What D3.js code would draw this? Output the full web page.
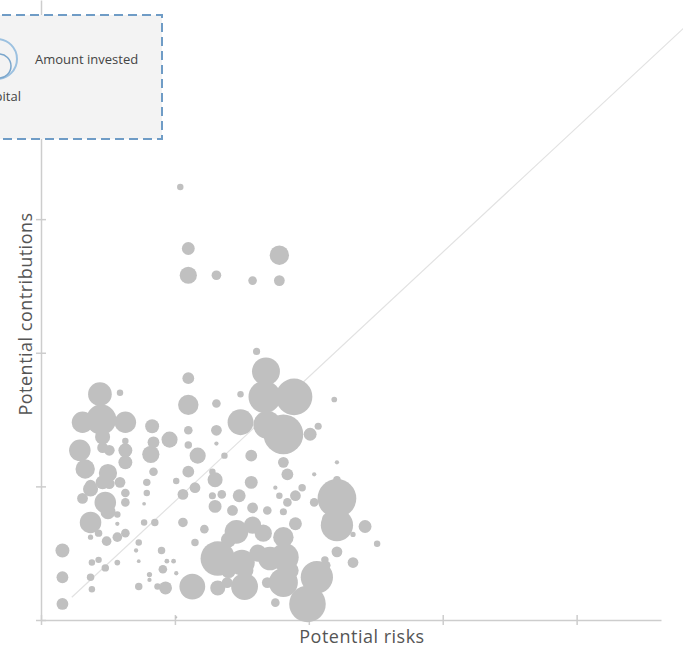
<!DOCTYPE html>
<html>
<head>
<meta charset="utf-8">
<script src="https://cdn.jsdelivr.net/npm/d3@7"></script>
<style>
    body { margin: 0; background: #fff; }
    svg { display: block; }
</style>
</head>
<body>
<div id="chart"></div>
<script>
// values (risk / contribution in tick units, amount invested)
let risks = [
    1.04, 1.10, 1.10, 1.31, 1.58, 1.78, 1.78, 1.61, 1.68, 1.10,
    1.49, 1.67, 1.89, 1.10, 1.31, 2.19, 1.49, 1.69, 1.81, 2.01,
    2.07, 0.83, 0.96, 1.10, 1.31, 1.31, 1.10, 0.84, 0.82, 1.17,
    1.37, 1.57, 1.81, 2.21, 1.84, 2.04, 0.84, 1.10, 1.28, 1.30,
    1.57, 1.01, 1.95, 0.44, 0.59, 0.45, 0.31, 0.63, 0.46, 0.63,
    0.29, 0.46, 0.51, 0.63, 0.63, 0.33, 0.50, 0.46, 0.59, 0.37,
    0.37, 0.48, 0.37, 0.50, 0.31, 0.51, 0.63, 0.63, 0.57, 0.57,
    0.79, 0.79, 0.77, 1.06, 1.15, 0.77, 0.85, 1.06, 0.43, 0.37,
    0.49, 0.57, 0.63, 0.73, 0.71, 0.16, 0.90, 1.15, 0.38, 0.43,
    0.57, 0.73, 0.94, 0.99, 0.48, 0.91, 0.16, 0.37, 0.81, 0.81,
    1.01, 0.38, 0.73, 0.87, 0.93, 1.13, 0.16, 1.28, 1.35, 1.48,
    1.75, 1.78, 1.90, 1.84, 2.04, 2.21, 2.21, 2.21, 2.14, 2.42,
    2.33, 2.51, 1.30, 1.43, 1.58, 1.69, 1.81, 1.22, 1.46, 1.58,
    1.66, 1.40, 1.90, 1.81, 1.32, 1.50, 1.62, 1.71, 1.82, 1.86,
    1.53, 1.40, 2.21, 2.33, 2.12, 1.32, 1.39, 1.52, 1.69, 1.81,
    2.06, 2.13, 1.99, 1.75, 1.01
];

let contributions = [
    3.24, 2.78, 2.58, 2.58, 2.54, 2.73, 2.54, 2.01, 1.86, 1.81,
    1.69, 1.67, 1.67, 1.61, 1.62, 1.65, 1.48, 1.46, 1.39, 1.39,
    1.45, 1.45, 1.35, 1.42, 1.42, 1.32, 1.31, 1.33, 1.24, 1.23,
    1.23, 1.23, 1.18, 1.18, 1.09, 1.09, 1.11, 1.11, 1.11, 1.05,
    1.03, 1.04, 0.99, 1.69, 1.70, 1.50, 1.48, 1.48, 1.37, 1.34,
    1.27, 1.29, 1.27, 1.27, 1.18, 1.13, 1.10, 1.03, 1.03, 1.01,
    0.98, 0.88, 0.73, 0.81, 0.91, 1.02, 0.95, 0.88, 0.79, 0.72,
    1.03, 0.95, 0.87, 0.94, 0.99, 0.73, 0.73, 0.73, 0.65, 0.62,
    0.59, 0.62, 0.65, 0.58, 0.52, 0.52, 0.52, 0.58, 0.43, 0.45,
    0.43, 0.44, 0.44, 0.44, 0.39, 0.38, 0.32, 0.32, 0.34, 0.30,
    0.35, 0.23, 0.25, 0.25, 0.24, 0.25, 0.12, 0.93, 0.94, 0.93,
    0.99, 0.93, 0.93, 0.88, 0.88, 1.05, 0.91, 0.71, 0.76, 0.70,
    0.64, 0.57, 0.85, 0.82, 0.84, 0.82, 0.81, 0.68, 0.66, 0.71,
    0.65, 0.60, 0.72, 0.62, 0.46, 0.43, 0.50, 0.46, 0.47, 0.37,
    0.37, 0.37, 0.51, 0.43, 0.45, 0.24, 0.28, 0.25, 0.28, 0.28,
    0.32, 0.41, 0.12, 0.13, 0.02
];

let amounts = [
    9, 36, 64, 20, 16, 81, 25, 11, 169, 30,
    9, 225, 289, 90, 16, 7, 144, 169, 342, 36,
    11, 42, 56, 16, 25, 4, 12, 30, 64, 56,
    9, 30, 25, 4, 30, 4, 16, 30, 9, 49,
    36, 9, 12, 121, 9, 196, 100, 100, 49, 9,
    100, 25, 25, 42, 42, 81, 72, 42, 25, 25,
    49, 100, 100, 49, 25, 25, 16, 16, 9, 4,
    12, 9, 3, 25, 25, 9, 12, 20, 12, 6,
    20, 20, 16, 9, 4, 42, 12, 12, 9, 9,
    7, 3, 5, 5, 12, 16, 30, 12, 6, 4,
    4, 9, 12, 9, 36, 144, 30, 11, 16, 36,
    4, 9, 25, 16, 16, 12, 324, 225, 25, 36,
    6, 9, 36, 25, 25, 16, 11, 16, 121, 64,
    64, 49, 36, 90, 256, 144, 64, 121, 169, 64,
    49, 49, 25, 25, 12, 49, 25, 156, 25, 182,
    225, 16, 289, 16, 1
];

let xTicks = [0, 1, 2, 3, 4];
let yTicks = [0, 1, 2, 3, 4];

// reference diagonal
let diagonalX = [0.23, 4.80];
let diagonalY = [0.17, 4.43];

let xLabel = 'Potential risks';
let yLabel = 'Potential contributions';
let legendSize = 'Amount invested';
let legendColor = 'Capital';

function renderChart() {
    let width = 683;
    let height = 648;
    let margin = { top: 0, right: 22, bottom: 28, left: 41 };

    let data = risks.map((r, i) => ({
        risk: r,
        contribution: contributions[i],
        amount: amounts[i]
    }));

    let x = d3.scaleLinear()
        .domain([0, 4.63])
        .range([margin.left, width - margin.right]);

    let y = d3.scaleLinear()
        .domain([0, 4.64])
        .range([height - margin.bottom, margin.top]);

    let r = d3.scaleSqrt()
        .domain([0, 400])
        .range([0, 21.5]);

    const svg = d3.select('#chart')
        .append('svg')
        .attr('width', width)
        .attr('height', height)
        .style('font-family', '"Open Sans", sans-serif');

    let styleAxis = (g) => {
        g.select('.domain')
            .attr('stroke', '#cdcdcd')
            .attr('stroke-width', 1.5);
        g.selectAll('.tick text').remove();
    };

    let xAxis = (g) => g
        .attr('transform', `translate(0,${height - margin.bottom})`)
        .call(d3.axisBottom(x).tickValues(xTicks).tickSizeOuter(0).tickFormat(''))
        .call(styleAxis)
        .call(g => g.selectAll('.tick line')
            .attr('y1', -5).attr('y2', 5)
            .attr('stroke', '#cdcdcd').attr('stroke-width', 1.5));

    let yAxis = (g) => g
        .attr('transform', `translate(${margin.left},0)`)
        .call(d3.axisLeft(y).tickValues(yTicks).tickSizeOuter(0).tickFormat(''))
        .call(styleAxis)
        .call(g => g.selectAll('.tick line')
            .attr('x1', -5).attr('x2', 5)
            .attr('stroke', '#cdcdcd').attr('stroke-width', 1.5));

    svg.append('g').call(xAxis);
    svg.append('g').call(yAxis);

    // diagonal line, behind the bubbles
    svg.append('line')
        .attr('x1', x(diagonalX[0]))
        .attr('y1', y(diagonalY[0]))
        .attr('x2', x(diagonalX[1]))
        .attr('y2', y(diagonalY[1]))
        .attr('stroke', '#e2e2e2')
        .attr('stroke-width', 1.2);

    svg.append('g')
        .selectAll('circle')
        .data(data)
        .join('circle')
        .attr('fill', '#c0c0c0')
        .attr('cx', d => x(d.risk))
        .attr('cy', d => y(d.contribution))
        .attr('r', d => r(d.amount));

    // axis titles
    svg.append('text')
        .attr('x', 362)
        .attr('y', 643)
        .attr('text-anchor', 'middle')
        .attr('fill', '#555')
        .style('font-size', '18px')
        .style('letter-spacing', '0.5px')
        .text(xLabel);

    svg.append('text')
        .attr('transform', `translate(32,314) rotate(-90)`)
        .attr('text-anchor', 'middle')
        .attr('fill', '#555')
        .style('font-size', '18px')
        .style('letter-spacing', '0.5px')
        .text(yLabel);

    // legend box (cut off at the left edge)
    let legend = svg.append('g');

    legend.append('rect')
        .attr('x', -12)
        .attr('y', 15)
        .attr('width', 174)
        .attr('height', 124)
        .attr('fill', '#f3f3f3')
        .attr('stroke', '#6f9cc6')
        .attr('stroke-width', 2)
        .attr('stroke-dasharray', '9,5');

    legend.append('circle')
        .attr('cx', -3)
        .attr('cy', 59)
        .attr('r', 20)
        .attr('fill', 'none')
        .attr('stroke', '#9cc1e0')
        .attr('stroke-width', 2);

    legend.append('circle')
        .attr('cx', -1)
        .attr('cy', 66)
        .attr('r', 12)
        .attr('fill', 'none')
        .attr('stroke', '#7aa6cc')
        .attr('stroke-width', 1.5);

    legend.append('text')
        .attr('x', 35)
        .attr('y', 64)
        .attr('fill', '#444')
        .style('font-size', '13px')
        .text(legendSize);

    legend.append('text')
        .attr('x', 21)
        .attr('y', 101)
        .attr('text-anchor', 'end')
        .attr('fill', '#444')
        .style('font-size', '13px')
        .text(legendColor);
}

renderChart();
</script>
</body>
</html>
